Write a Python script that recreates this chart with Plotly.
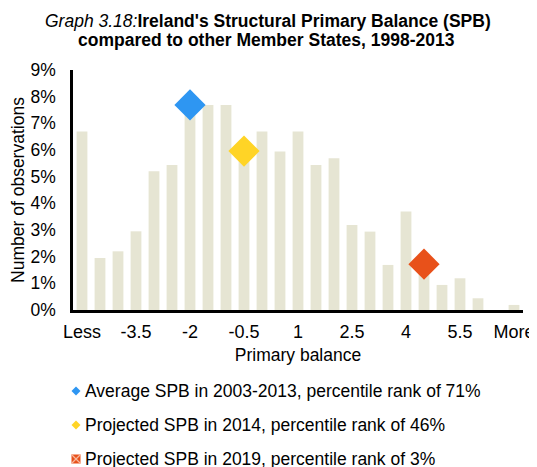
import plotly.graph_objects as go

categories = ["Less", "-4.5", "-4", "-3.5", "-3", "-2.5", "-2", "-1.5", "-1", "-0.5",
              "0", "0.5", "1", "1.5", "2", "2.5", "3", "3.5", "4", "4.5",
              "5", "5.5", "6", "6.5", "More"]
share_pct = [6.69, 1.95, 2.2, 2.95, 5.2, 5.44, 7.69, 7.69, 7.69, 5.94,
             6.69, 5.94, 6.69, 5.44, 5.69, 3.19, 2.94, 1.69, 3.69, 1.69,
             0.94, 1.19, 0.44, 0.0, 0.19]
tick_labels = ["Less", "-3.5", "-2", "-0.5", "1", "2.5", "4", "5.5", "More"]
y_ticks_pct = [0, 1, 2, 3, 4, 5, 6, 7, 8, 9]

avg_cat, avg_val = "-2", 7.69
proj14_cat, proj14_val = "-0.5", 5.96
proj19_cat, proj19_val = "4.5", 1.72

names = ["Average SPB in 2003-2013, percentile rank of 71%",
         "Projected SPB in 2014, percentile rank of 46%",
         "Projected SPB in 2019, percentile rank of 3%"]
colors = ["#2E96F2", "#FFD426", "#E8511A"]

FONT = "Liberation Sans, Arial, sans-serif"
# the page body has an 8px margin, so the figure is 8px smaller than the window
OFF = 8
W, H = 537 - OFF, 467 - OFF
L, R, T, B = 73 - OFF, 14, 70 - OFF, 157
PW, PH = W - L - R, H - T - B


def px_x(px):  # reference-window pixel -> paper coordinate
    return (px - OFF - L) / PW


def px_y(py):
    return (H - B - (py - OFF)) / PH


fig = go.Figure()
fig.add_trace(go.Bar(x=categories, y=[v / 100 for v in share_pct],
                     marker=dict(color="#E6E5D3", line=dict(width=0)),
                     width=0.6, showlegend=False))

for nm, cat, val, col in [(names[0], avg_cat, avg_val, colors[0]),
                          (names[1], proj14_cat, proj14_val, colors[1]),
                          (names[2], proj19_cat, proj19_val, colors[2])]:
    fig.add_trace(go.Scatter(x=[cat], y=[val / 100], mode="markers", name=nm,
                             marker=dict(symbol="diamond", size=24, color=col,
                                         line=dict(width=0)),
                             showlegend=False))

shapes = []
annotations = []

# legend drawn below the chart (symbols + text)
legend_y = [391, 425, 459]
text_x = 83
sym_x = 76
for i, (nm, col) in enumerate(zip(names, colors)):
    cy = legend_y[i]
    annotations.append(dict(text=nm, x=px_x(text_x), y=px_y(cy), xref="paper", yref="paper",
                            xanchor="left", yanchor="middle", showarrow=False,
                            font=dict(size=17.5, family=FONT, color="#000000")))
    h = 4.5
    if i < 2:
        path = (f"M {px_x(sym_x - h)} {px_y(cy)} L {px_x(sym_x)} {px_y(cy - h)} "
                f"L {px_x(sym_x + h)} {px_y(cy)} L {px_x(sym_x)} {px_y(cy + h)} Z")
        shapes.append(dict(type="path", path=path, xref="paper", yref="paper",
                           fillcolor=col, line=dict(width=0)))
    else:
        shapes.append(dict(type="rect", xref="paper", yref="paper",
                           x0=px_x(sym_x - h), x1=px_x(sym_x + h),
                           y0=px_y(cy + h), y1=px_y(cy - h),
                           fillcolor=col, line=dict(width=0)))
        for a, b in [((-h, -h), (h, h)), ((-h, h), (h, -h))]:
            shapes.append(dict(type="line", xref="paper", yref="paper",
                               x0=px_x(sym_x + a[0]), y0=px_y(cy + a[1]),
                               x1=px_x(sym_x + b[0]), y1=px_y(cy + b[1]),
                               line=dict(color="#F6B79C", width=1.2)))

annotations.append(dict(
    text="<i>Graph 3.18:</i><b>Ireland's Structural Primary Balance (SPB)</b>",
    x=px_x(268), y=px_y(21), xref="paper", yref="paper", xanchor="center", yanchor="middle",
    showarrow=False, font=dict(size=17.5, family=FONT, color="#000000")))
annotations.append(dict(
    text="<b>compared to other Member States, 1998-2013</b>",
    x=px_x(266), y=px_y(40), xref="paper", yref="paper", xanchor="center", yanchor="middle",
    showarrow=False, font=dict(size=17.5, family=FONT, color="#000000")))

fig.update_layout(
    width=W, height=H,
    margin=dict(l=L, r=R, t=T, b=B),
    paper_bgcolor="white", plot_bgcolor="white",
    font=dict(family=FONT, size=17.5, color="#000000"),
    bargap=0.4,
    showlegend=False,
    shapes=shapes,
    annotations=annotations,
)
fig.update_xaxes(
    type="category", categoryorder="array", categoryarray=categories,
    tickmode="array", tickvals=tick_labels, ticktext=tick_labels,
    showline=True, linecolor="#000000", linewidth=2.5, ticks="", showgrid=False,
    tickfont=dict(size=18), ticklabelstandoff=4, automargin=False,
    title=dict(text="Primary balance", font=dict(size=17.5), standoff=8),
    range=[-0.5, len(categories) - 0.5],
)
fig.update_yaxes(
    range=[0, 0.09], tickvals=[v / 100 for v in y_ticks_pct], tickformat=".0%",
    showline=True, linecolor="#000000", linewidth=2.5, ticks="", showgrid=False,
    zeroline=False, tickfont=dict(size=17.5), ticklabelstandoff=11, automargin=False,
    title=dict(text="Number of observations", font=dict(size=17.5), standoff=6),
)

fig.write_html("out.html")
